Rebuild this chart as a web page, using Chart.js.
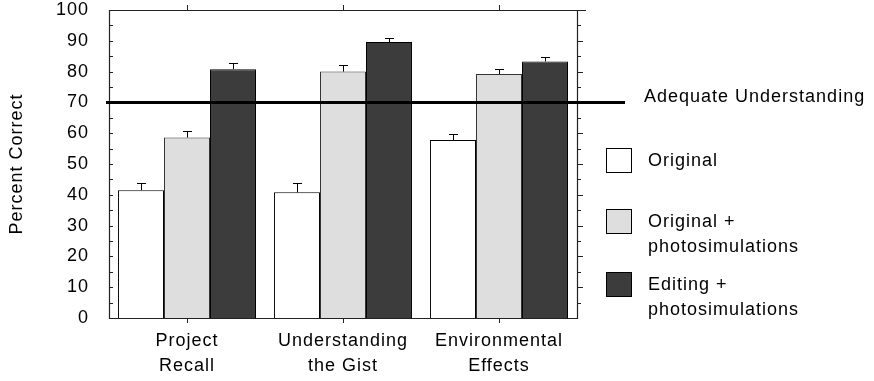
<!DOCTYPE html>
<html>
<head>
<meta charset="utf-8">
<style>
  html, body { margin: 0; padding: 0; background: #ffffff; }
  #wrap { width: 874px; height: 381px; position: relative; }
</style>
<script src="https://cdn.jsdelivr.net/npm/chart.js@4/dist/chart.umd.min.js"></script>
</head>
<body>
<div id="wrap"><canvas id="c" width="874" height="381"></canvas></div>
<script>
const categories = [["Project", "Recall"], ["Understanding", "the Gist"], ["Environmental", "Effects"]];
const seriesNames = ["Original", "Original +\nphotosimulations", "Editing +\nphotosimulations"];
const originalValues = [41.5, 40.8, 57.8];
const originalPlusPhotoValues = [58.6, 80.0, 79.2];
const editingPlusPhotoValues = [80.8, 89.6, 83.3];
const originalErrors = [2.2, 2.9, 2.1];
const originalPlusPhotoErrors = [2.1, 2.0, 1.5];
const editingPlusPhotoErrors = [2.1, 1.4, 1.5];
const yTicks = [0, 10, 20, 30, 40, 50, 60, 70, 80, 90, 100];
const thresholdValue = 70;
const thresholdLabel = "Adequate Understanding";
const yAxisTitle = "Percent Correct";

const FONT = "'Liberation Sans', Arial, Helvetica, sans-serif";
const INK = "#000000";
const SPACING = "1px";
const fills = ["#ffffff", "#dedede", "#3c3c3c"];
const errors = [originalErrors, originalPlusPhotoErrors, editingPlusPhotoErrors];

const spacingPlugin = {
  id: "spacing",
  beforeUpdate(chart) { chart.ctx.letterSpacing = SPACING; },
  beforeLayout(chart) { chart.ctx.letterSpacing = SPACING; },
  beforeDraw(chart) { chart.ctx.letterSpacing = SPACING; }
};

const decorPlugin = {
  id: "decor",
  afterDatasetsDraw(chart) {
    const ctx = chart.ctx;
    const ca = chart.chartArea;
    const ys = chart.scales.y;
    const xs = chart.scales.x;
    ctx.save();
    ctx.letterSpacing = SPACING;
    // error bars (upward only)
    ctx.strokeStyle = INK;
    ctx.lineWidth = 1;
    chart.data.datasets.forEach((ds, di) => {
      const meta = chart.getDatasetMeta(di);
      meta.data.forEach((bar, i) => {
        const v = ds.data[i];
        const top = ys.getPixelForValue(v);
        const ey = Math.round(ys.getPixelForValue(v + errors[di][i])) + 0.5;
        const x = Math.round(bar.x) + 0.5;
        ctx.beginPath();
        ctx.moveTo(x, top);
        ctx.lineTo(x, ey);
        ctx.moveTo(x - 4.5, ey);
        ctx.lineTo(x + 4.5, ey);
        ctx.stroke();
      });
    });
    // frame
    ctx.strokeStyle = "#222222";
    ctx.lineWidth = 1.2;
    ctx.beginPath();
    ctx.rect(Math.round(ca.left) + 0.5, Math.round(ca.top) + 0.5, Math.round(ca.right - ca.left), Math.round(ca.bottom - ca.top));
    ctx.moveTo(ca.right, Math.round(ca.top) + 0.5);
    ctx.lineTo(ca.right + 9, Math.round(ca.top) + 0.5);
    ctx.stroke();
    // minor ticks every 5 on left (inward) and right (outward)
    ctx.lineWidth = 1;
    ctx.beginPath();
    for (let v = 5; v < 100; v += 5) {
      const y = Math.round(ys.getPixelForValue(v)) + 0.5;
      ctx.moveTo(ca.left, y); ctx.lineTo(ca.left + 4, y);
      const len = (v % 10 === 0) ? 6 : 4;
      ctx.moveTo(ca.right, y); ctx.lineTo(ca.right + len, y);
    }
    // category ticks top and bottom (outward)
    categories.forEach((c, i) => {
      const x = Math.round(xs.getPixelForValue(i)) + 0.5;
      ctx.moveTo(x, ca.bottom); ctx.lineTo(x, ca.bottom + 5);
      ctx.moveTo(x, ca.top); ctx.lineTo(x, ca.top - 5);
    });
    ctx.stroke();
    // threshold line
    const ty = ys.getPixelForValue(thresholdValue);
    ctx.strokeStyle = "#000000";
    ctx.lineWidth = 3;
    ctx.beginPath();
    ctx.moveTo(ca.left - 3, ty);
    ctx.lineTo(625, ty);
    ctx.stroke();
    // legend text for threshold
    ctx.fillStyle = INK;
    ctx.font = "18px " + FONT;
    ctx.textAlign = "left";
    ctx.textBaseline = "middle";
    ctx.fillText(thresholdLabel, 644, ty - 5);
    // series legend
    const boxTops = [148, 209, 272];
    seriesNames.forEach((name, i) => {
      const bx = 606, by = boxTops[i];
      ctx.fillStyle = fills[i];
      ctx.fillRect(bx, by, 26, 25);
      ctx.strokeStyle = INK;
      ctx.lineWidth = 1;
      ctx.strokeRect(bx + 0.5, by + 0.5, 25, 24);
      ctx.fillStyle = INK;
      const lines = name.split("\n");
      lines.forEach((ln, k) => {
        ctx.fillText(ln, 648, by + 13 + k * 25);
      });
    });
    ctx.restore();
  }
};

new Chart(document.getElementById("c"), {
  type: "bar",
  data: {
    labels: categories,
    datasets: [
      { label: seriesNames[0], data: originalValues, backgroundColor: fills[0], borderColor: INK, borderWidth: 1 },
      { label: seriesNames[1], data: originalPlusPhotoValues, backgroundColor: fills[1], borderColor: "#333333", borderWidth: 1 },
      { label: seriesNames[2], data: editingPlusPhotoValues, backgroundColor: fills[2], borderColor: INK, borderWidth: 1 }
    ]
  },
  plugins: [spacingPlugin, decorPlugin],
  options: {
    responsive: false,
    animation: false,
    events: [],
    layout: { padding: { left: 0, right: 297, top: 10, bottom: 0 } },
    datasets: { bar: { categoryPercentage: 0.885, barPercentage: 1.0 } },
    plugins: { legend: { display: false }, tooltip: { enabled: false } },
    scales: {
      x: {
        grid: { display: false, drawTicks: false },
        border: { display: false },
        ticks: {
          color: INK,
          padding: 11,
          maxRotation: 0,
          autoSkip: false,
          font: { family: FONT, size: 18, lineHeight: 1.36 }
        },
        afterFit(scale) { scale.height = 63; scale.paddingLeft = 0; scale.paddingRight = 0; }
      },
      y: {
        min: 0,
        max: 100,
        grid: { display: false, drawTicks: false },
        border: { display: false },
        afterBuildTicks(scale) { scale.ticks = yTicks.map(v => ({ value: v })); },
        ticks: {
          color: INK,
          padding: 20,
          font: { family: FONT, size: 18 }
        },
        title: {
          display: true,
          text: yAxisTitle,
          color: INK,
          padding: { top: 6, bottom: 0 },
          font: { family: FONT, size: 18 }
        },
        afterFit(scale) { scale.width = 109; scale.paddingTop = 0; scale.paddingBottom = 0; }
      }
    }
  }
});
</script>
</body>
</html>
